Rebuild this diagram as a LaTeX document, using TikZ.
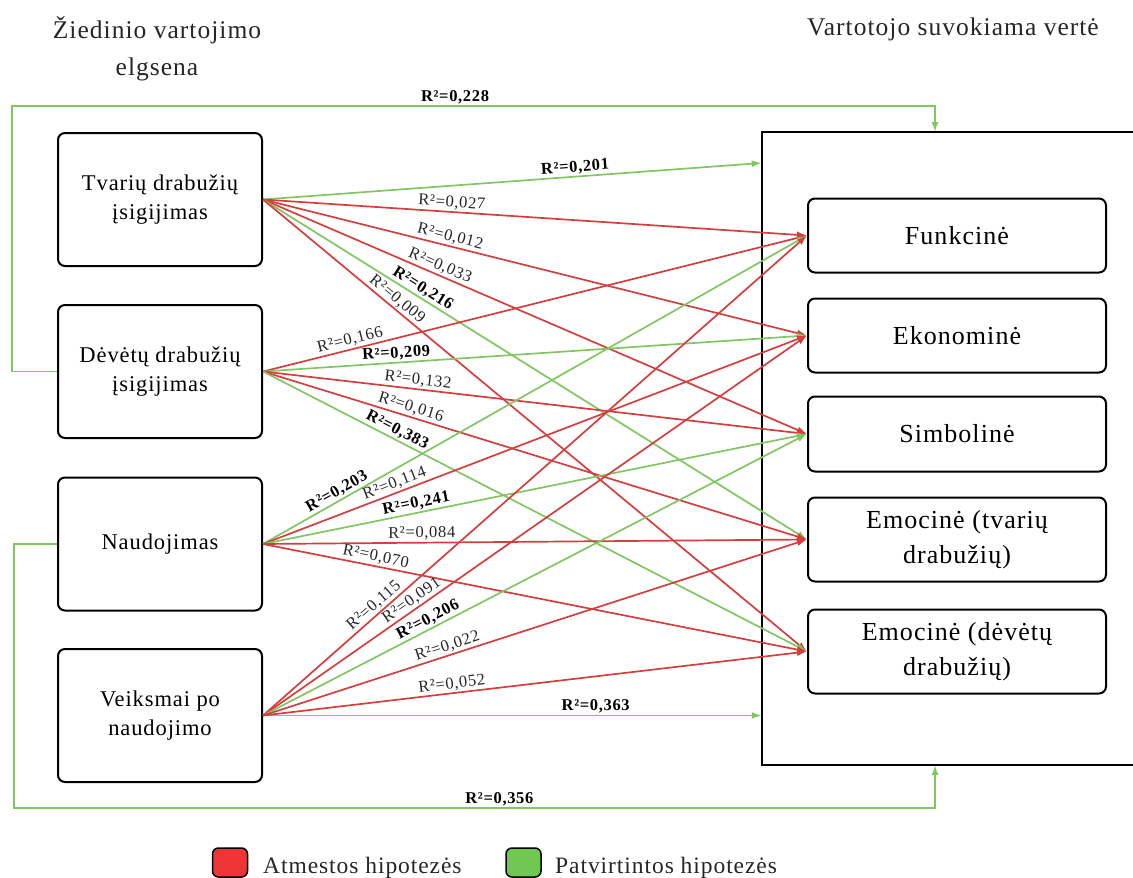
\documentclass[tikz,border=0pt]{standalone}
\usepackage{fontspec}
\setmainfont{Liberation Serif}[LetterSpace=4]
\usetikzlibrary{arrows.meta}

\definecolor{rejred}{RGB}{212,62,62}
\definecolor{accgreen}{RGB}{130,198,100}
\definecolor{legred}{RGB}{238,52,52}
\definecolor{leggreen}{RGB}{110,200,82}

\begin{document}
\begin{tikzpicture}[x=1pt,y=-1pt,
  lbox/.style={draw=black, line width=2pt, rounded corners=7pt, fill=white,
    minimum width=204pt, minimum height=133pt, align=center, inner sep=0pt,
    font=\fontsize{22.5}{28.5}\selectfont},
  rbox/.style={draw=black, line width=2pt, rounded corners=7pt, fill=white,
    minimum width=298pt, align=center, inner sep=0pt,
    font=\fontsize{26}{35}\selectfont},
  link/.style={line width=1.7pt, -{Latex[length=10pt,width=7pt]}},
  rej/.style={link, draw=rejred},
  acc/.style={link, draw=accgreen},
  lbl/.style={font=\fontsize{16.5}{18}\selectfont, inner sep=1.5pt, sloped, above, text=black!85},
  sig/.style={lbl, font=\fontsize{16.5}{18}\selectfont\bfseries, text=black},
  ttl/.style={font=\fontsize{25.5}{37}\selectfont, align=center, text=black!85},
  legsq/.style={draw=black, line width=1.5pt, rounded corners=6pt,
    minimum width=35pt, minimum height=29pt, inner sep=0pt},
  legtxt/.style={anchor=base west, inner sep=0pt, font=\fontsize{23.5}{28}\selectfont, text=black!85},
]
\useasboundingbox (0,0) rectangle (1133,878);

% headings
\node[ttl] (hleft) at (157,48.5) {Žiedinio vartojimo\\elgsena};
\node[ttl] (hright) at (953,29) {Vartotojo suvokiama vertė};

% circular consumption stages
\node[lbox] (tva) at (160,199.5) {Tvarių drabužių\\įsigijimas};
\node[lbox] (dev) at (160,371.5) {Dėvėtų drabužių\\įsigijimas};
\node[lbox] (nau) at (160,544) {Naudojimas};
\node[lbox] (vei) at (160,715.5) {Veiksmai po\\naudojimo};

% perceived value frame (open on the right)
\node[minimum width=380pt, minimum height=633pt, inner sep=0pt] (vert) at (952,448.5) {};
\draw[line width=1.8pt] (vert.north east) -- (vert.north west) -- (vert.south west) -- (vert.south east);
\coordinate (vtop) at (935,132);
\coordinate (vbot) at (935,765);

\node[rbox, minimum height=74pt] (fun) at (957,235.5) {Funkcinė};
\node[rbox, minimum height=74pt] (eko) at (957,335.5) {Ekonominė};
\node[rbox, minimum height=75pt] (sim) at (957,434) {Simbolinė};
\node[rbox, minimum height=84pt] (emt) at (957,539.5) {Emocinė (tvarių\\drabužių)};
\node[rbox, minimum height=84pt] (emd) at (957,651.5) {Emocinė (dėvėtų\\drabužių)};

% overall effects on perceived value
\draw[acc] (dev.west) -- (12,371.5) -- (12,106)
  -- node[sig, pos=0.48] {R²=0,228} (935,106) -- (vtop);
\draw[acc] (nau.west) -- (14,544) -- (14,808)
  -- node[sig, pos=0.527] {R²=0,356} (935,808) -- (vbot);
\draw[acc] (tva.east) -- node[sig, pos=0.627] {R²=0,201} (vert.west |- 0,163);
\draw[acc] (vei.east) -- node[sig, pos=0.667] {R²=0,363} (vert.west |- vei.east);

% sustainable clothing purchase
\draw[rej] (tva.east) -- node[lbl, pos=0.346] {R²=0,027} (fun.west);
\draw[rej] (tva.east) -- node[lbl, pos=0.340] {R²=0,012} (eko.west);
\draw[rej] (tva.east) -- node[lbl, pos=0.319] {R²=0,033} (sim.west);
\draw[acc] (tva.east) -- node[sig, pos=0.285] {R²=0,216} (emt.west);
\draw[rej] (tva.east) -- node[lbl, pos=0.236] {R²=0,009} (emd.west);

% second-hand clothing purchase
\draw[rej] (dev.east) -- node[lbl, pos=0.164] {R²=0,166} (fun.west);
\draw[acc] (dev.east) -- node[sig, pos=0.246] {R²=0,209} (eko.west);
\draw[rej] (dev.east) -- node[lbl, pos=0.283] {R²=0,132} (sim.west);
\draw[rej] (dev.east) -- node[lbl, pos=0.267] {R²=0,016} (emt.west);
\draw[acc] (dev.east) -- node[sig, pos=0.239] {R²=0,383} (emd.west);

% use
\draw[acc] (nau.east) -- node[sig, pos=0.144] {R²=0,203} (fun.west);
\draw[rej] (nau.east) -- node[lbl, pos=0.248] {R²=0,114} (eko.west);
\draw[acc] (nau.east) -- node[sig, pos=0.285] {R²=0,241} (sim.west);
\draw[rej] (nau.east) -- node[lbl, pos=0.292] {R²=0,084} (emt.west);
\draw[rej] (nau.east) -- node[lbl, pos=0.204] {R²=0,070} (emd.west);

% post-use actions
\draw[rej] (vei.east) -- node[lbl, pos=0.215] {R²=0,115} (fun.west);
\draw[rej] (vei.east) -- node[lbl, pos=0.283] {R²=0,091} (eko.west);
\draw[acc] (vei.east) -- node[sig, pos=0.311] {R²=0,206} (sim.west);
\draw[rej] (vei.east) -- node[lbl, pos=0.344] {R²=0,022} (emt.west);
\draw[rej] (vei.east) -- node[lbl, pos=0.349] {R²=0,052} (emd.west);

% legend
\node[legsq, fill=legred] (kred) at (230,862.5) {};
\node[legtxt] (kredt) at (263,873) {Atmestos hipotezės};
\node[legsq, fill=leggreen] (kgrn) at (523.5,862.5) {};
\node[legtxt] (kgrnt) at (555,873) {Patvirtintos hipotezės};
\end{tikzpicture}
\end{document}
